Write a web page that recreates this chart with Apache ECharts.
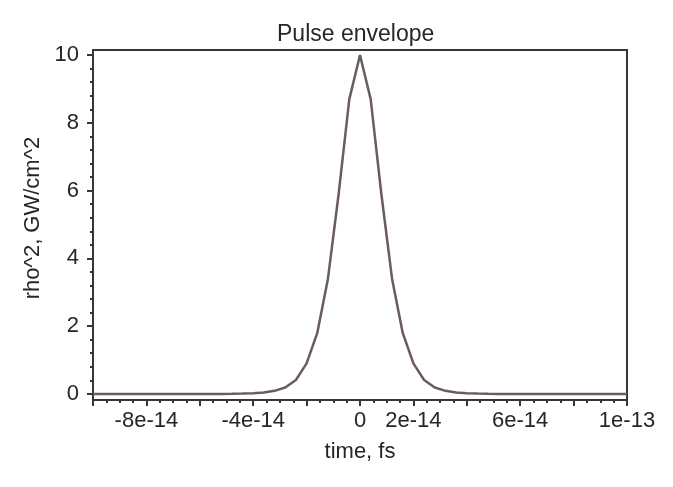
<!DOCTYPE html>
<html>
<head>
<meta charset="utf-8">
<script src="https://cdn.jsdelivr.net/npm/echarts@6/dist/echarts.min.js"></script>
<style>html,body{margin:0;padding:0;background:#fff}#c{width:673px;height:487px}</style>
</head>
<body>
<div id="c"></div>
<script>
// time axis (s)
const timeValues = [
  -1.0e-13, -9.6e-14, -9.2e-14, -8.8e-14, -8.4e-14, -8.0e-14, -7.6e-14, -7.2e-14, -6.8e-14, -6.4e-14,
  -6.0e-14, -5.6e-14, -5.2e-14, -4.8e-14, -4.4e-14, -4.0e-14, -3.6e-14, -3.2e-14, -2.8e-14, -2.4e-14,
  -2.0e-14, -1.6e-14, -1.2e-14, -8.0e-15, -4.0e-15, 0,
  4.0e-15, 8.0e-15, 1.2e-14, 1.6e-14, 2.0e-14, 2.4e-14, 2.8e-14, 3.2e-14, 3.6e-14, 4.0e-14,
  4.4e-14, 4.8e-14, 5.2e-14, 5.6e-14, 6.0e-14, 6.4e-14, 6.8e-14, 7.2e-14, 7.6e-14, 8.0e-14,
  8.4e-14, 8.8e-14, 9.2e-14, 9.6e-14, 1.0e-13
];
// rho^2, GW/cm^2
const rhoValues = [
  0, 0, 0, 0, 0, 0, 0, 0, 0, 0,
  0, 0, 0, 0.004, 0.01, 0.02, 0.04, 0.09, 0.19, 0.41,
  0.9, 1.8, 3.4, 5.9, 8.7, 10.0,
  8.7, 5.9, 3.4, 1.8, 0.9, 0.41, 0.19, 0.09, 0.04, 0.02,
  0.01, 0.004, 0, 0, 0, 0, 0, 0, 0, 0,
  0, 0, 0, 0, 0
];
const xLabelValues = [-8e-14, -4e-14, 0, 2e-14, 6e-14, 1e-13];
const xLabelTexts = ['-8e-14', '-4e-14', '0', '2e-14', '6e-14', '1e-13'];
const xMajorTicks = [-1e-13, -8e-14, -6e-14, -4e-14, -2e-14, 0, 2e-14, 4e-14, 6e-14, 8e-14, 1e-13];
const xMinorTicks = [
  -9.5e-14, -9e-14, -8.5e-14, -7.5e-14, -7e-14, -6.5e-14, -5.5e-14, -5e-14, -4.5e-14,
  -3.5e-14, -3e-14, -2.5e-14, -1.5e-14, -1e-14, -5e-15, 5e-15, 1e-14, 1.5e-14,
  2.5e-14, 3e-14, 3.5e-14, 4.5e-14, 5e-14, 5.5e-14, 6.5e-14, 7e-14, 7.5e-14,
  8.5e-14, 9e-14, 9.5e-14
];
const yLabelValues = [0, 2, 4, 6, 8, 10];
const yMinorTicks = [0.4, 0.8, 1.2, 1.6, 2.4, 2.8, 3.2, 3.6, 4.4, 4.8, 5.2, 5.6, 6.4, 6.8, 7.2, 7.6, 8.4, 8.8, 9.2, 9.6];

const FONT = '"Liberation Sans", Arial, Helvetica, sans-serif';
const TXT = '#262626';
const AX = '#363636';

const chart = echarts.init(document.getElementById('c'), null, {renderer: 'canvas'});
const xMin = -1e-13, xMax = 1e-13, yMin = -0.18, yMax = 10.15;

function xFmt(v) {
  for (let i = 0; i < xLabelValues.length; i++) {
    if (Math.abs(v - xLabelValues[i]) < 1e-20) return xLabelTexts[i];
  }
  return '';
}

chart.setOption({
  animation: false,
  backgroundColor: '#ffffff',
  title: {
    text: 'Pulse envelope',
    left: 272, top: 18,
    textStyle: {fontFamily: FONT, fontSize: 23, fontWeight: 'normal', color: TXT}
  },
  grid: {
    left: 93, right: 46, top: 50, bottom: 87,
    show: true, borderColor: AX, borderWidth: 2, backgroundColor: 'transparent'
  },
  xAxis: [{
    type: 'value', min: xMin, max: xMax, position: 'bottom',
    name: 'time, fs', nameLocation: 'middle', nameGap: 41,
    nameTextStyle: {fontFamily: FONT, fontSize: 22, color: TXT},
    axisLine: {show: true, onZero: false, lineStyle: {color: AX, width: 2}},
    axisTick: {show: true, inside: false, length: 6, customValues: xMajorTicks, lineStyle: {color: AX, width: 2}},
    axisLabel: {show: true, customValues: xLabelValues, formatter: xFmt, margin: 10,
      fontFamily: FONT, fontSize: 22, color: TXT},
    splitLine: {show: false}
  }, {
    type: 'value', min: xMin, max: xMax, position: 'bottom',
    axisLine: {show: false, onZero: false},
    axisTick: {show: true, inside: false, length: 3, customValues: xMinorTicks, lineStyle: {color: AX, width: 2}},
    axisLabel: {show: false},
    splitLine: {show: false}
  }],
  yAxis: [{
    type: 'value', min: yMin, max: yMax, position: 'left',
    name: 'rho^2, GW/cm^2', nameLocation: 'middle', nameGap: 41,
    nameTextStyle: {fontFamily: FONT, fontSize: 22, color: TXT, padding: [0, 0, 0, 14]},
    axisLine: {show: true, onZero: false, lineStyle: {color: AX, width: 2}},
    axisTick: {show: true, inside: false, length: 6, customValues: yLabelValues, lineStyle: {color: AX, width: 2}},
    axisLabel: {show: true, customValues: yLabelValues, margin: 14,
      fontFamily: FONT, fontSize: 22, color: TXT},
    splitLine: {show: false}
  }, {
    type: 'value', min: yMin, max: yMax, position: 'left',
    axisLine: {show: false, onZero: false},
    axisTick: {show: true, inside: false, length: 3, customValues: yMinorTicks, lineStyle: {color: AX, width: 2}},
    axisLabel: {show: false},
    splitLine: {show: false}
  }],
  series: [{
    type: 'line',
    xAxisIndex: 0, yAxisIndex: 0,
    data: timeValues.map((t, i) => [t, rhoValues[i]]),
    showSymbol: false, symbol: 'none',
    lineStyle: {color: '#6b5c5c', width: 2.5},
    clip: true
  }]
});
</script>
</body>
</html>
